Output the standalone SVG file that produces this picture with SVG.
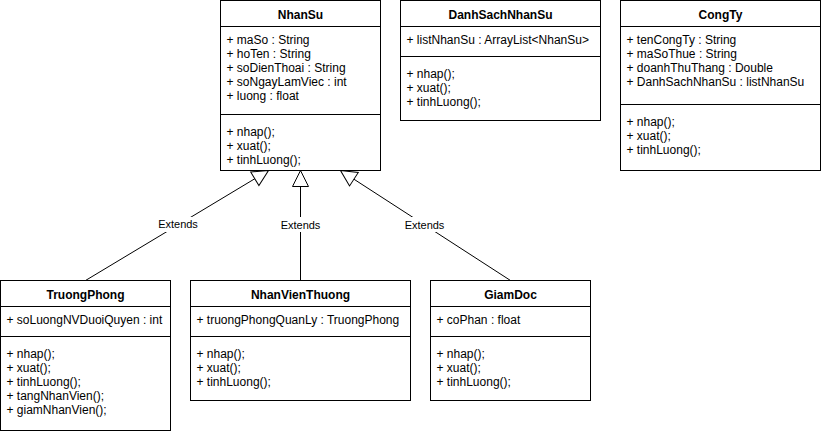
<svg xmlns="http://www.w3.org/2000/svg" width="821" height="434" viewBox="0 0 821 434">
<defs>
<marker id="ext" markerUnits="userSpaceOnUse" markerWidth="16" markerHeight="16" viewBox="0 0 16 16" refX="16" refY="8" orient="auto" style="overflow:visible">
<path d="M0,0 L16,8 L0,16 Z" fill="#fff" stroke="#000" stroke-width="1"/>
</marker>
<style>
.box{fill:#fff;stroke:#000;stroke-width:1}
.sep{stroke:#000;stroke-width:1;fill:none}
.t{font-family:"Liberation Sans",Arial,Helvetica,sans-serif;font-size:12px;fill:#000}
.h{font-weight:bold;text-anchor:middle}
.edge{stroke:#000;stroke-width:1;fill:none;marker-end:url(#ext)}
.lbl{font-family:"Liberation Sans",Arial,Helvetica,sans-serif;font-size:11px;fill:#000;text-anchor:middle}
.lblbg{fill:#fff}
</style>
</defs>
<rect x="0" y="0" width="821" height="434" fill="#fff"/>

<g id="connectors">
<g id="edge-truongphong">
<line class="edge" x1="85.5" y1="280.5" x2="268.5" y2="170.5"/>
<rect class="lblbg" x="157" y="217" width="42" height="15"/>
<text class="lbl" x="178" y="228">Extends</text>
</g>
<g id="edge-nhanvienthuong">
<line class="edge" x1="300.5" y1="280.5" x2="300.5" y2="170.5"/>
<rect class="lblbg" x="279" y="217" width="43" height="15"/>
<text class="lbl" x="300.5" y="228.5">Extends</text>
</g>
<g id="edge-giamdoc">
<line class="edge" x1="510.5" y1="280.5" x2="340.5" y2="170.5"/>
<rect class="lblbg" x="403" y="217" width="43" height="15"/>
<text class="lbl" x="424.5" y="228.5">Extends</text>
</g>
</g>

<g id="NhanSu">
<rect class="box" x="220.5" y="0.5" width="160" height="170"/>
<line class="sep" x1="220.5" y1="26.5" x2="380.5" y2="26.5"/>
<line class="sep" x1="220.5" y1="114.5" x2="380.5" y2="114.5"/>
<text class="t h" x="300.5" y="18.5">NhanSu</text>
<text class="t" x="226.5" y="44">+ maSo : String</text>
<text class="t" x="226.5" y="58">+ hoTen : String</text>
<text class="t" x="226.5" y="72">+ soDienThoai : String</text>
<text class="t" x="226.5" y="86">+ soNgayLamViec : int</text>
<text class="t" x="226.5" y="100">+ luong : float</text>
<text class="t" x="226.5" y="136">+ nhap();</text>
<text class="t" x="226.5" y="150">+ xuat();</text>
<text class="t" x="226.5" y="164">+ tinhLuong();</text>
</g>

<g id="DanhSachNhanSu">
<rect class="box" x="400.5" y="0.5" width="200" height="120"/>
<line class="sep" x1="400.5" y1="26.5" x2="600.5" y2="26.5"/>
<line class="sep" x1="400.5" y1="56.5" x2="600.5" y2="56.5"/>
<text class="t h" x="500.5" y="18.5">DanhSachNhanSu</text>
<text class="t" x="406.5" y="44">+ listNhanSu : ArrayList&lt;NhanSu&gt;</text>
<text class="t" x="406.5" y="78">+ nhap();</text>
<text class="t" x="406.5" y="92">+ xuat();</text>
<text class="t" x="406.5" y="106">+ tinhLuong();</text>
</g>

<g id="CongTy">
<rect class="box" x="620.5" y="0.5" width="200" height="170"/>
<line class="sep" x1="620.5" y1="26.5" x2="820.5" y2="26.5"/>
<line class="sep" x1="620.5" y1="104.5" x2="820.5" y2="104.5"/>
<text class="t h" x="720.5" y="18.5">CongTy</text>
<text class="t" x="626.5" y="44">+ tenCongTy : String</text>
<text class="t" x="626.5" y="58">+ maSoThue : String</text>
<text class="t" x="626.5" y="72">+ doanhThuThang : Double</text>
<text class="t" x="626.5" y="86">+ DanhSachNhanSu : listNhanSu</text>
<text class="t" x="626.5" y="126">+ nhap();</text>
<text class="t" x="626.5" y="140">+ xuat();</text>
<text class="t" x="626.5" y="154">+ tinhLuong();</text>
</g>

<g id="TruongPhong">
<rect class="box" x="0.5" y="280.5" width="170" height="150"/>
<line class="sep" x1="0.5" y1="306.5" x2="170.5" y2="306.5"/>
<line class="sep" x1="0.5" y1="336.5" x2="170.5" y2="336.5"/>
<text class="t h" x="85.5" y="299">TruongPhong</text>
<text class="t" x="6.5" y="324">+ soLuongNVDuoiQuyen : int</text>
<text class="t" x="6.5" y="358">+ nhap();</text>
<text class="t" x="6.5" y="372">+ xuat();</text>
<text class="t" x="6.5" y="386">+ tinhLuong();</text>
<text class="t" x="6.5" y="400">+ tangNhanVien();</text>
<text class="t" x="6.5" y="414">+ giamNhanVien();</text>
</g>

<g id="NhanVienThuong">
<rect class="box" x="190.5" y="280.5" width="220" height="120"/>
<line class="sep" x1="190.5" y1="306.5" x2="410.5" y2="306.5"/>
<line class="sep" x1="190.5" y1="336.5" x2="410.5" y2="336.5"/>
<text class="t h" x="300.5" y="299">NhanVienThuong</text>
<text class="t" x="196.5" y="324">+ truongPhongQuanLy : TruongPhong</text>
<text class="t" x="196.5" y="358">+ nhap();</text>
<text class="t" x="196.5" y="372">+ xuat();</text>
<text class="t" x="196.5" y="386">+ tinhLuong();</text>
</g>

<g id="GiamDoc">
<rect class="box" x="430.5" y="280.5" width="160" height="120"/>
<line class="sep" x1="430.5" y1="306.5" x2="590.5" y2="306.5"/>
<line class="sep" x1="430.5" y1="336.5" x2="590.5" y2="336.5"/>
<text class="t h" x="510.5" y="299">GiamDoc</text>
<text class="t" x="436.5" y="324">+ coPhan : float</text>
<text class="t" x="436.5" y="358">+ nhap();</text>
<text class="t" x="436.5" y="372">+ xuat();</text>
<text class="t" x="436.5" y="386">+ tinhLuong();</text>
</g>
</svg>
